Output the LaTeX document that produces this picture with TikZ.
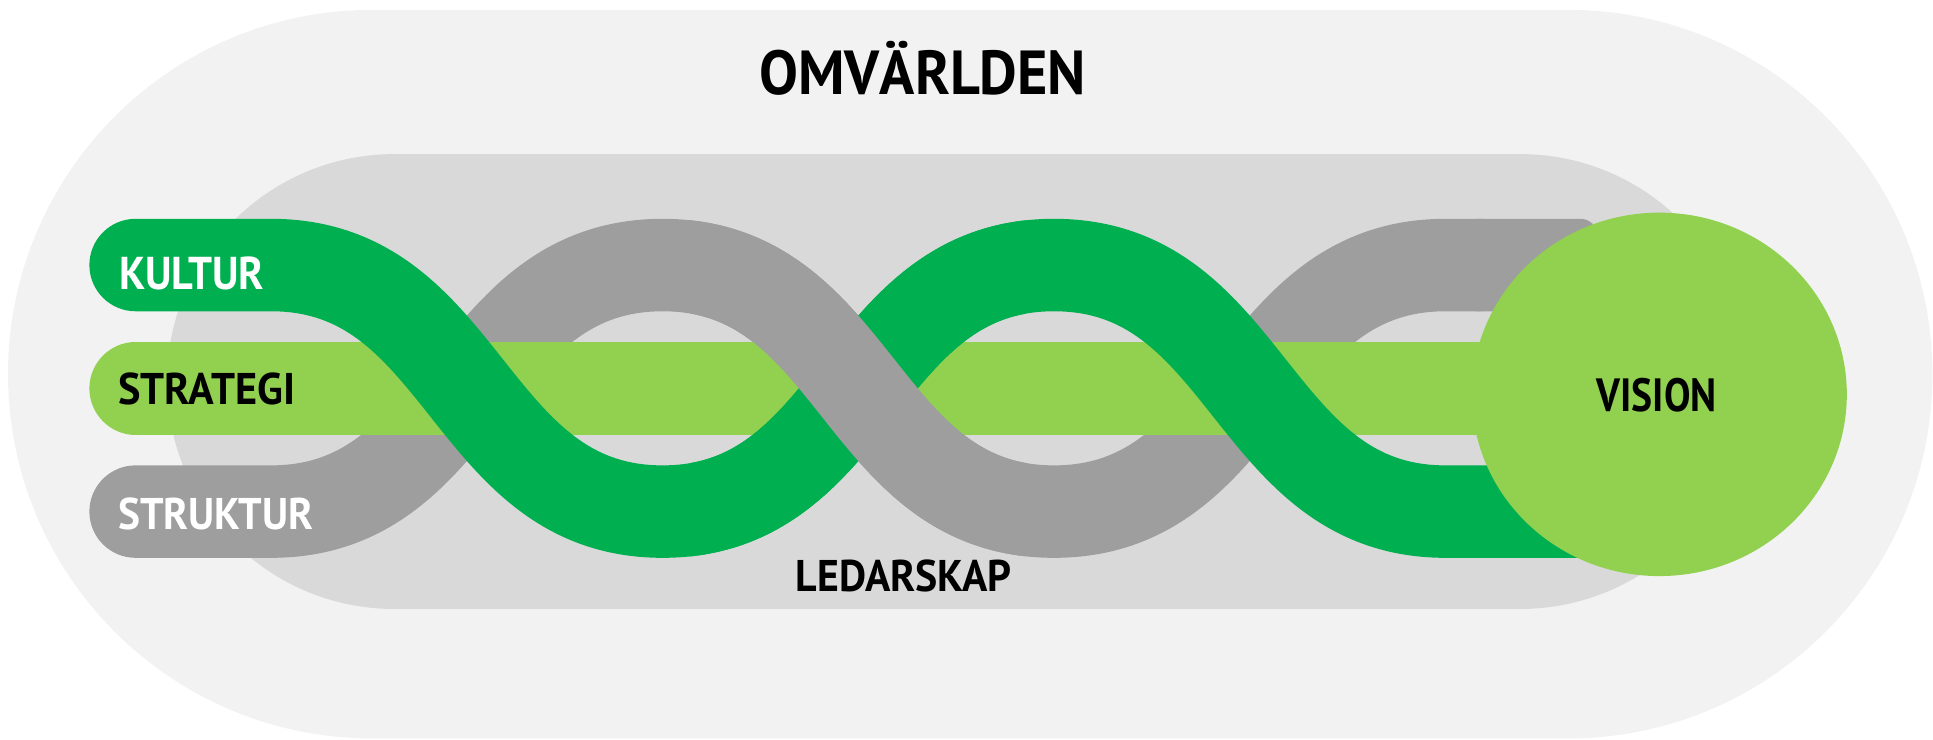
\documentclass[tikz,border=0pt]{standalone}
\usepackage{fontspec}
\setmainfont{PT Sans}
\usepackage{graphicx}
\definecolor{outerc}{HTML}{F2F2F2}
\definecolor{innerc}{HTML}{D9D9D9}
\definecolor{grayc}{HTML}{9E9E9E}
\definecolor{darkg}{HTML}{00B050}
\definecolor{lightg}{HTML}{92D050}
\newcommand\fitlbl[3]{\resizebox{#1pt}{#2pt}{\bfseries #3}}
\tikzset{
  strand/.style={line width=75pt, line cap=round},
  lbltxt/.style={inner sep=0pt, outer sep=0pt, anchor=center},
}
\begin{document}
\begin{tikzpicture}[x=1pt,y=1pt]
\useasboundingbox (0,0) rectangle (1568,600);
% OMVARLDEN area
\fill[outerc] (302,592) -- (1272,592) arc[start angle=90, end angle=-90, radius=295.5]
  -- (302,1) arc[start angle=270, end angle=90, radius=295.5] -- cycle;
% LEDARSKAP area
\fill[innerc] (320,475) -- (1233,475) arc[start angle=90, end angle=-90, radius=184.5]
  -- (320,106) arc[start angle=270, end angle=90, radius=184.5] -- cycle;
% STRUKTUR strand (grey)
\draw[strand, grayc] (110,185) -- (220,185)
  .. controls (378.75,185) and (378.75,385) .. (537.5,385)
  .. controls (696.25,385) and (696.25,185) .. (855,185)
  .. controls (1013.75,185) and (1013.75,385) .. (1172.5,385) -- (1200,385);
\fill[grayc, rounded corners=14pt] (1185,347.5) rectangle (1296,422.5);
% STRATEGI strand
\draw[strand, lightg] (110,285) -- (1300,285);
% KULTUR strand (dark green)
\draw[strand, darkg] (110,385) -- (220,385)
  .. controls (378.75,385) and (378.75,185) .. (537.5,185)
  .. controls (696.25,185) and (696.25,385) .. (855,385)
  .. controls (1013.75,385) and (1013.75,185) .. (1172.5,185) -- (1300,185);
% middle crossing: grey over green
\begin{scope}
\clip (560,0) rectangle (832,600);
\draw[strand, darkg] (537.5,185) .. controls (696.25,185) and (696.25,385) .. (855,385);
\draw[strand, grayc] (537.5,385) .. controls (696.25,385) and (696.25,185) .. (855,185);
\end{scope}
% VISION
\fill[lightg] (1346,280.1) ellipse[x radius=152.1, y radius=147.4];
% labels
\node[lbltxt] (omv) at (748.5,540.9) {\fitlbl{265}{36}{OMV\smash{Ä}RLDEN}};
\node[lbltxt] (led) at (733.1,132.8) {\fitlbl{175}{25.7}{LEDARSKAP}};
\node[lbltxt, text=white] (kul) at (155.5,378.05) {\fitlbl{117.4}{26.5}{KULTUR}};
\node[lbltxt] (str) at (167.7,284.35) {\fitlbl{143.3}{25.7}{STRATEGI}};
\node[lbltxt, text=white] (stk) at (175,183.45) {\fitlbl{158}{25.7}{STRUKTUR}};
\node[lbltxt] (vis) at (1343.8,279.6) {\fitlbl{97.3}{27}{VISION}};
\end{tikzpicture}
\end{document}
